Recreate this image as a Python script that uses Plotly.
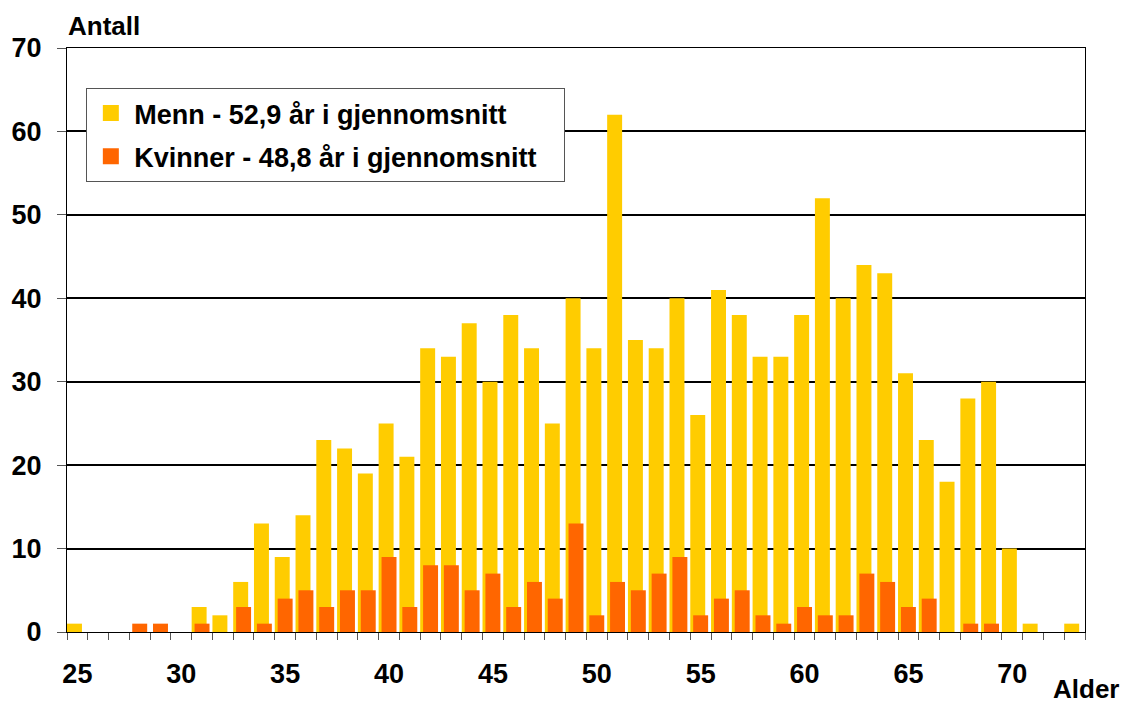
import plotly.graph_objects as go

# Age distribution (antall per alder) for men and women
ages = list(range(25, 74))
menn = [1, 0, 0, 0, 0, 0, 3, 2, 6, 13,
        9, 14, 23, 22, 19, 25, 21, 34, 33, 37,
        30, 38, 34, 25, 40, 34, 62, 35, 34, 40,
        26, 41, 38, 33, 33, 38, 52, 40, 44, 43,
        31, 23, 18, 28, 30, 10, 1, 0, 1]
kvinner = [0, 0, 0, 1, 1, 0, 1, 0, 3, 1,
           4, 5, 3, 5, 5, 9, 3, 8, 8, 5,
           7, 3, 6, 4, 13, 2, 6, 5, 7, 9,
           2, 4, 5, 2, 1, 3, 2, 2, 7, 6,
           3, 4, 0, 1, 1, 0, 0, 0, 0]
label_menn = "Menn - 52,9 år i gjennomsnitt"
label_kvinner = "Kvinner - 48,8 år i gjennomsnitt"
x_ticks = [25, 30, 35, 40, 45, 50, 55, 60, 65, 70]
y_ticks = [0, 10, 20, 30, 40, 50, 60, 70]

YELLOW = "#FFCC00"
ORANGE = "#FF6600"
FONT = "Liberation Sans, Arial, sans-serif"

fig = go.Figure()

fig.add_trace(go.Bar(x=ages, y=menn, width=0.72, offset=-0.5,
                     marker=dict(color=YELLOW, line=dict(width=0)),
                     showlegend=False, name=label_menn))
fig.add_trace(go.Bar(x=ages, y=kvinner, width=0.72, offset=-0.36,
                     marker=dict(color=ORANGE, line=dict(width=0)),
                     showlegend=False, name=label_kvinner))

# legend entries with larger square swatches
fig.add_trace(go.Scatter(x=[None], y=[None], mode="markers",
                         name=label_menn + "\u00a0\u00a0\u00a0",
                         legendgroup="m",
                         marker=dict(symbol="square", size=17, color=YELLOW)))
fig.add_trace(go.Scatter(x=[None], y=[None], mode="markers",
                         name=label_kvinner + "\u00a0\u00a0\u00a0",
                         legendgroup="k",
                         marker=dict(symbol="square", size=17, color=ORANGE)))

fig.update_layout(
    width=1127, height=706,
    margin=dict(l=64, r=42, t=48, b=74),
    paper_bgcolor="white", plot_bgcolor="white",
    barmode="overlay",
    font=dict(family=FONT, color="black"),
    showlegend=True,
    legend=dict(
        x=0.019, y=0.9315, xanchor="left", yanchor="top",
        bgcolor="white", bordercolor="#555555", borderwidth=1,
        font=dict(family=FONT, size=27, color="black", weight="bold"),
        traceorder="grouped", tracegroupgap=5,
        itemsizing="trace", itemwidth=37,
    ),
    xaxis=dict(
        range=[24.5, 73.5],
        tickvals=x_ticks, ticktext=[str(v) for v in x_ticks],
        ticks="", ticklabelstandoff=18,
        tickfont=dict(family=FONT, size=27, weight="bold", color="black"),
        minor=dict(tick0=24.5, dtick=1, ticks="outside", ticklen=7,
                   tickcolor="#555555", tickwidth=1),
        showgrid=False, zeroline=False,
        showline=True, linecolor="black", linewidth=1, mirror=True,
    ),
    yaxis=dict(
        range=[0, 70],
        tickvals=y_ticks,
        ticks="outside", ticklen=9, tickcolor="#555555", tickwidth=1,
        ticklabelstandoff=10,
        tickfont=dict(family=FONT, size=27, weight="bold", color="black"),
        showgrid=True, gridcolor="black", gridwidth=2,
        zeroline=False,
        showline=True, linecolor="black", linewidth=1, mirror=True,
    ),
    annotations=[
        dict(text="Antall", xref="paper", yref="paper", x=0.0, y=1.0377,
             xanchor="left", yanchor="middle", xshift=-1, showarrow=False,
             font=dict(family=FONT, size=26, weight="bold", color="black")),
        dict(text="Alder", xref="paper", yref="paper", x=1.0352, y=-0.1267,
             xanchor="right", yanchor="bottom", showarrow=False,
             font=dict(family=FONT, size=26, weight="bold", color="black")),
    ],
)

fig.write_html("out.html")
